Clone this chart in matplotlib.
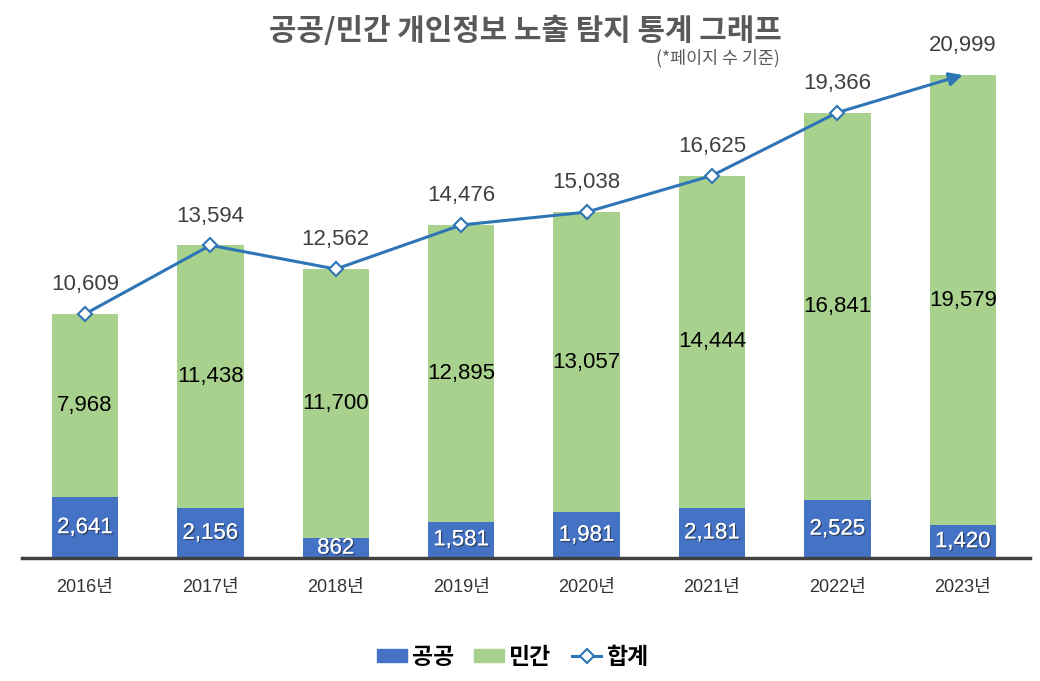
import matplotlib.pyplot as plt
import matplotlib.patheffects as pe
from matplotlib.lines import Line2D
from matplotlib.patches import Patch

plt.rcParams['font.family'] = ['Liberation Sans', 'Noto Sans CJK KR']

# 데이터
years = ['2016년', '2017년', '2018년', '2019년', '2020년', '2021년', '2022년', '2023년']
public = [2641, 2156, 862, 1581, 1981, 2181, 2525, 1420]
private = [7968, 11438, 11700, 12895, 13057, 14444, 16841, 19579]
total = [10609, 13594, 12562, 14476, 15038, 16625, 19366, 20999]

c_pub = '#4472C4'
c_pri = '#A9D18E'
c_line = '#2E75B6'
kr = ['Noto Sans CJK KR', 'DejaVu Sans']

fig = plt.figure(figsize=(10.4, 6.81), dpi=100)
ax = fig.add_axes([22 / 1040, 123 / 681, 1008 / 1040, 518 / 681])

x = list(range(len(years)))
w = 0.53
ax.bar(x, public, w, color=c_pub)
ax.bar(x, private, w, bottom=public, color=c_pri)

# 합계 선 (마지막 점은 화살표)
ax.plot(x[:-1], total[:-1], color=c_line, lw=2.2, zorder=3)
ax.plot(x[:-1], total[:-1], ls='none', marker='D', ms=7, mfc='white',
        mec=c_line, mew=1.5, zorder=4)
ax.annotate('', xy=(x[-1], total[-1]), xytext=(x[-2], total[-2]),
            arrowprops=dict(arrowstyle='-|>', color=c_line, lw=2.2,
                            mutation_scale=20, shrinkA=0, shrinkB=0), zorder=3)

shadow = [pe.withSimplePatchShadow(offset=(1, -1), shadow_rgbFace='#222222', alpha=0.6),
          pe.Normal()]
for i in x:
    ax.text(i, public[i] / 2, f'{public[i]:,}', ha='center', va='center',
            color='white', fontsize=16, path_effects=shadow)
    ax.text(i, public[i] + private[i] / 2, f'{private[i]:,}', ha='center',
            va='center', color='black', fontsize=16)
    ax.text(i, total[i] + 1270, f'{total[i]:,}', ha='center', va='center',
            color='#404040', fontsize=16)

ax.set_xlim(-0.502, 7.536)
ax.set_ylim(0, 22520)
ax.set_yticks([])
ax.set_xticks(x)
ax.set_xticklabels(years, fontsize=13, color='#333333')
ax.tick_params(axis='x', length=0, pad=15)
for s in ['top', 'right', 'left']:
    ax.spines[s].set_visible(False)
ax.spines['bottom'].set_color('#404040')
ax.spines['bottom'].set_linewidth(2.5)

fig.text(0.505, 1 - 31 / 681, '공공/민간 개인정보 노출 탐지 통계 그래프', ha='center',
         va='center', fontsize=21.5, fontweight='bold', color='#595959', family=kr)
fig.text(780 / 1040, 1 - 58 / 681, '(*페이지 수 기준)', ha='right', va='center',
         fontsize=12.5, color='#595959', family=kr)

handles = [Patch(color=c_pub, label='공공'), Patch(color=c_pri, label='민간'),
           Line2D([], [], color=c_line, lw=2.2, marker='D', ms=7, mfc='white',
                  mec=c_line, mew=1.5, label='합계')]
fig.legend(handles=handles, loc='center', bbox_to_anchor=(0.493, 24 / 681), ncol=3,
           frameon=False, prop={'size': 16.5, 'weight': 'bold', 'family': kr},
           handlelength=1.3, handleheight=0.5, columnspacing=0.9, handletextpad=0.2)

fig.savefig('out.png', dpi=100)
